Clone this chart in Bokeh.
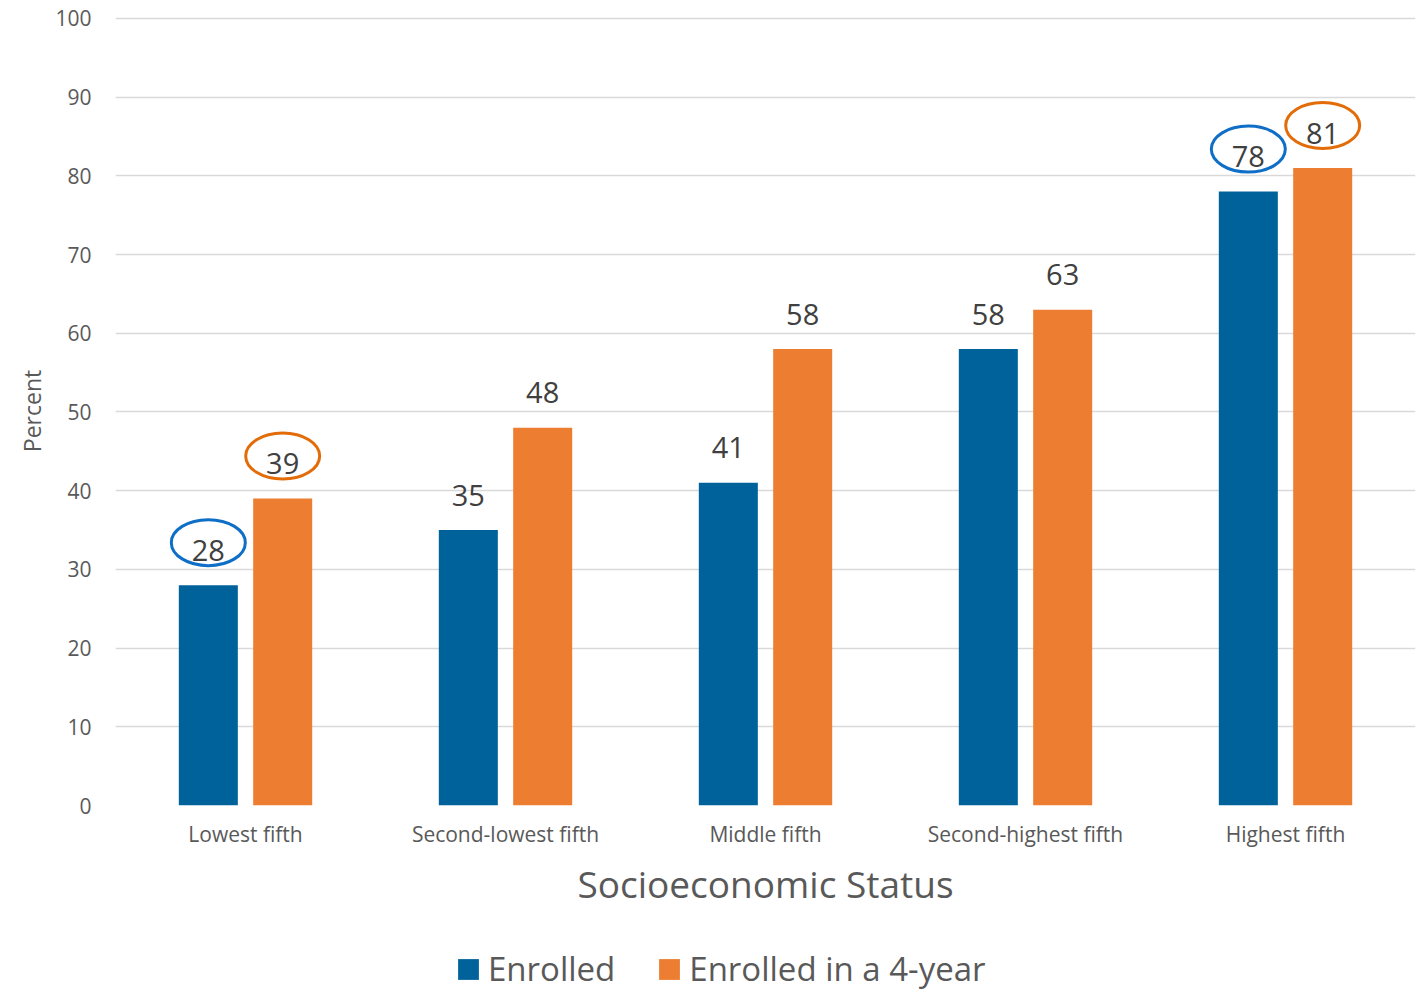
from bokeh.plotting import figure
from bokeh.layouts import column
from bokeh.models import ColumnDataSource, Legend, LegendItem, FixedTicker, Range1d
from bokeh.core.properties import value
from bokeh.embed import file_html
from bokeh.resources import INLINE

categories = ["Lowest fifth", "Second-lowest fifth", "Middle fifth", "Second-highest fifth", "Highest fifth"]
enrolled = [28, 35, 41, 58, 78]
enrolled_4yr = [39, 48, 58, 63, 81]
highlight = [True, False, False, False, True]
y_ticks = [0, 10, 20, 30, 40, 50, 60, 70, 80, 90, 100]
series_names = ["Enrolled", "Enrolled in a 4-year"]

FONT = "Open Sans"
BLUE = "#00629B"
ORANGE = "#ED7D31"
RING_BLUE = "#0F6FC6"
RING_ORANGE = "#E36C09"

xs = [i + 0.5 for i in range(len(categories))]
off = 0.143
bw = 0.227

src_a = ColumnDataSource(dict(x=[x - off for x in xs], top=enrolled, lab=[str(v) for v in enrolled]))
src_b = ColumnDataSource(dict(x=[x + off for x in xs], top=enrolled_4yr, lab=[str(v) for v in enrolled_4yr]))

p = figure(width=1420, height=940, output_backend="svg", toolbar_location=None,
           x_range=Range1d(0, len(categories)), y_range=Range1d(0, 100.25),
           min_border_left=115, min_border_right=5, min_border_top=16, min_border_bottom=135)
p.outline_line_color = None
p.background_fill_color = "white"

ra = p.vbar(x="x", top="top", width=bw, source=src_a, fill_color=BLUE, line_color=None)
rb = p.vbar(x="x", top="top", width=bw, source=src_b, fill_color=ORANGE, line_color=None)

p.text(x="x", y="top", text="lab", source=src_a, y_offset=-35, text_align="center",
       text_baseline="middle", text_font=value(FONT), text_font_size="29px", text_color="#404040")
p.text(x="x", y="top", text="lab", source=src_b, y_offset=-35, text_align="center",
       text_baseline="middle", text_font=value(FONT), text_font_size="29px", text_color="#404040")

ha = [i for i, h in enumerate(highlight) if h]
ring_a = ColumnDataSource(dict(x=[xs[i] - off for i in ha], y=[enrolled[i] + 5.4 for i in ha]))
ring_b = ColumnDataSource(dict(x=[xs[i] + off for i in ha], y=[enrolled_4yr[i] + 5.4 for i in ha]))
p.ellipse(x="x", y="y", width=74, height=46, width_units="screen", height_units="screen",
          source=ring_a, fill_color=None, line_color=RING_BLUE, line_width=3)
p.ellipse(x="x", y="y", width=74, height=46, width_units="screen", height_units="screen",
          source=ring_b, fill_color=None, line_color=RING_ORANGE, line_width=3)

p.xgrid.visible = False
p.ygrid.grid_line_color = "#D9D9D9"
p.ygrid.grid_line_width = 1.5
p.yaxis.ticker = FixedTicker(ticks=y_ticks)
p.xaxis.ticker = FixedTicker(ticks=xs)
p.xaxis.major_label_overrides = {x: c for x, c in zip(xs, categories)}

for ax in (p.xaxis[0], p.yaxis[0]):
    ax.axis_line_color = None
    ax.major_tick_line_color = None
    ax.minor_tick_line_color = None
    ax.major_label_text_font = FONT
    ax.major_label_text_color = "#595959"
    ax.axis_label_text_font = FONT
    ax.axis_label_text_color = "#595959"
    ax.axis_label_text_font_style = "normal"

p.yaxis.major_label_text_font_size = "21px"
p.yaxis.major_label_standoff = 18
p.yaxis.axis_label = "Percent"
p.yaxis.axis_label_text_font_size = "23px"
p.yaxis.axis_label_standoff = 4

p.xaxis.major_label_text_font_size = "21px"
p.xaxis.major_label_standoff = 8
p.xaxis.axis_label = "Socioeconomic Status"
p.xaxis.axis_label_text_font_size = "37px"
p.xaxis.axis_label_standoff = 7

# legend strip (bars kept out of its visible y range; only the legend shows)
q = figure(width=1420, height=51, output_backend="svg", toolbar_location=None,
           x_range=Range1d(0, len(categories)), y_range=Range1d(1000, 1001),
           min_border_left=115, min_border_right=5, min_border_top=0, min_border_bottom=0)
q.axis.visible = False
q.grid.visible = False
q.outline_line_color = None
la = q.vbar(x="x", top="top", width=bw, source=src_a, fill_color=BLUE, line_color=None)
lb = q.vbar(x="x", top="top", width=bw, source=src_b, fill_color=ORANGE, line_color=None)
legend = Legend(items=[LegendItem(label=series_names[0], renderers=[la]),
                       LegendItem(label=series_names[1], renderers=[lb])],
                orientation="horizontal", location=(340, 0))
legend.label_text_font = FONT
legend.label_text_font_size = "33px"
legend.label_text_color = "#595959"
legend.glyph_width = 26
legend.glyph_height = 26
legend.label_standoff = 7
legend.spacing = 41
legend.border_line_color = None
legend.background_fill_alpha = 0
legend.margin = 0
legend.padding = 0
q.add_layout(legend, "center")

layout = column(p, q, spacing=0)
open("out.html", "w").write(file_html(layout, INLINE))
